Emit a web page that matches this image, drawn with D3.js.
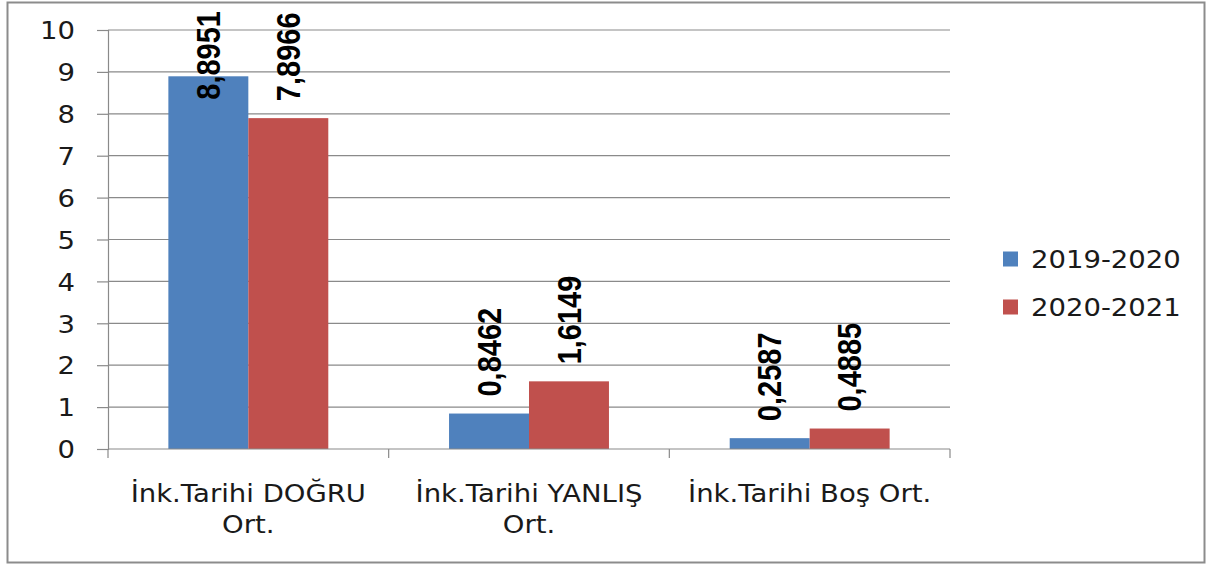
<!DOCTYPE html>
<html><head><meta charset="utf-8">
<script src="https://cdn.jsdelivr.net/npm/d3@7"></script>
<style>body{margin:0;background:#fff}svg{display:block}</style>
</head><body>
<script>
const categories = [["İnk.Tarihi DOĞRU","Ort."],["İnk.Tarihi YANLIŞ","Ort."],["İnk.Tarihi Boş Ort."]];
const seriesNames = ["2019-2020","2020-2021"];
const values2019 = [8.8951, 0.8462, 0.2587];
const values2020 = [7.8966, 1.6149, 0.4885];
const valueLabels2019 = ["8,8951","0,8462","0,2587"];
const valueLabels2020 = ["7,8966","1,6149","0,4885"];
const yTicks = [0,1,2,3,4,5,6,7,8,9,10];
const colors = ["#4F81BD","#C0504D"];

const W=1211,H=567;
const svg=d3.select("body").append("svg").attr("width",W).attr("height",H);
svg.append("rect").attr("x",7.5).attr("y",2.5).attr("width",1197).attr("height",560)
  .attr("fill","#fff").attr("stroke","#8c8c8c").attr("stroke-width",2);

const L=108,R=950,T=30,B=449;
const SX=1.1;
const y=d3.scaleLinear().domain([0,10]).range([B,T]);
const x0=d3.scaleBand().domain(d3.range(3)).range([L,R]).paddingInner(0).paddingOuter(0);
const x1=d3.scaleBand().domain([0,1]).range([0,x0.bandwidth()]).paddingOuter(0.755).paddingInner(0);

const font="DejaVu Sans";
svg.append("g").selectAll("line").data(yTicks.filter(d=>d>0)).join("line")
  .attr("x1",L).attr("x2",R).attr("y1",d=>y(d)).attr("y2",d=>y(d))
  .attr("stroke","#8a8a8a").attr("stroke-width",1.2);

// y axis
const yAxis=d3.axisLeft(y).tickValues(yTicks).tickSize(11).tickPadding(0).tickFormat(d3.format("d"));
const gy=svg.append("g").attr("transform",`translate(${L},0)`).call(yAxis);
gy.select(".domain").attr("stroke","#8a8a8a").attr("stroke-width",1.2);
gy.selectAll(".tick line").attr("stroke","#8a8a8a").attr("stroke-width",1.2);
gy.selectAll(".tick text").attr("x",0).attr("font-family",font).attr("font-size",25).attr("fill","#1a1a1a")
  .attr("dy","0.35em").attr("transform",`translate(-33,0) scale(${SX},1)`);

// bars
const data=[values2019,values2020];
const labels=[valueLabels2019,valueLabels2020];
data.forEach((vals,si)=>{
  svg.append("g").selectAll("rect").data(vals).join("rect")
    .attr("x",(d,i)=>x0(i)+x1(si)).attr("width",x1.bandwidth())
    .attr("y",d=>y(d)).attr("height",d=>B-y(d)).attr("fill",colors[si]);
});

// x axis
const gx=svg.append("g");
gx.append("line").attr("x1",L).attr("x2",R).attr("y1",B).attr("y2",B).attr("stroke","#8a8a8a").attr("stroke-width",1.2);
[0,1,2,3].forEach(i=>{
  const xx=L+i*x0.bandwidth();
  gx.append("line").attr("x1",xx).attr("x2",xx).attr("y1",B).attr("y2",B+9).attr("stroke","#8a8a8a").attr("stroke-width",1.2);
});
categories.forEach((lines,i)=>{
  const cx=x0(i)+x0.bandwidth()/2;
  const t=gx.append("text").attr("transform",`translate(${cx},0) scale(${SX},1)`)
    .attr("text-anchor","middle").attr("font-family",font).attr("font-size",25).attr("fill","#1a1a1a");
  lines.forEach((ln,k)=>t.append("tspan").attr("x",0).attr("y",502+k*31).text(ln));
});

// data labels
data.forEach((vals,si)=>{
  vals.forEach((v,i)=>{
    const cx=x0(i)+x1(si)+x1.bandwidth()/2;
    const g=svg.append("g");
    const t=g.append("text").text(labels[si][i]).attr("font-family","Liberation Sans").attr("font-weight","bold")
      .attr("font-size",29).attr("fill","#000").attr("dy","0.35em");
    const len=t.node().getComputedTextLength();
    const ys=Math.max(y(v)-17, 11+len);
    g.attr("transform",`translate(${cx},${ys}) rotate(-90) scale(1,1.15)`);
  });
});

// legend
seriesNames.forEach((n,i)=>{
  const cy=259+i*48;
  svg.append("rect").attr("x",1003).attr("y",cy-7.5).attr("width",15).attr("height",15).attr("fill",colors[i]);
  svg.append("text").attr("transform",`translate(1031,${cy}) scale(${SX},1)`).attr("dy","0.35em")
    .attr("font-family",font).attr("font-size",25).attr("fill","#1a1a1a").text(n);
});
</script>
</body></html>
